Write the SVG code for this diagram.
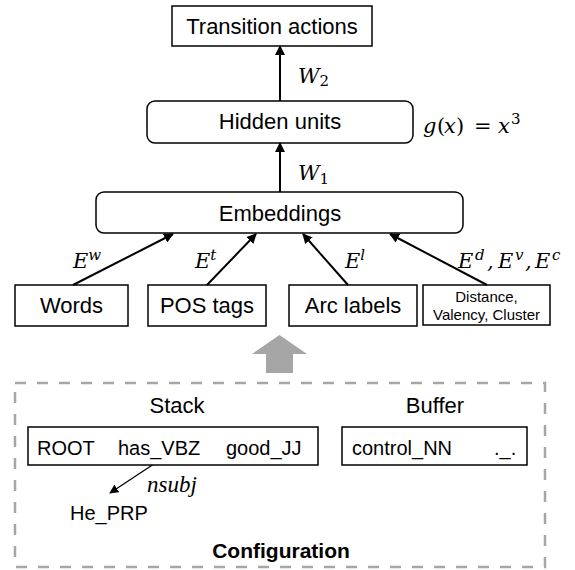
<svg xmlns="http://www.w3.org/2000/svg" width="575" height="570" viewBox="0 0 575 570">
<style>
.box{fill:#fff;stroke:#000;stroke-width:1.5}
.t{font-family:"Liberation Sans",Arial,sans-serif;font-size:22px;fill:#000}
.tc{text-anchor:middle}
.m{font-family:"DejaVu Serif","Liberation Serif",serif;font-style:italic;font-size:21px;fill:#000}
.mu{font-style:normal}
.sup{font-size:15px}
.edge{stroke:#000;stroke-width:2;fill:none;marker-end:url(#ah)}
.thin{stroke:#000;stroke-width:1.3;fill:none;marker-end:url(#ah2)}
</style>
<defs>
<marker id="ah" viewBox="0 0 10 10" refX="9" refY="5" markerWidth="5" markerHeight="5" orient="auto" markerUnits="strokeWidth">
<path d="M0,0 L10,5 L0,10 z" fill="#000"/>
</marker>
<marker id="ah2" viewBox="0 0 10 10" refX="9" refY="5" markerWidth="7" markerHeight="7" orient="auto" markerUnits="strokeWidth">
<path d="M0,0 L10,5 L0,10 z" fill="#000"/>
</marker>
</defs>

<g id="transition">
<rect class="box" x="172" y="6" width="200" height="40"/>
<text class="t tc" x="272" y="34">Transition actions</text>
</g>
<g id="hidden">
<rect class="box" x="147" y="101" width="266" height="42" rx="8"/>
<text class="t tc" x="280" y="129">Hidden units</text>
</g>
<text class="m" y="133"><tspan x="423">g</tspan><tspan class="mu" x="437">(</tspan><tspan x="444">x</tspan><tspan class="mu" x="456">)</tspan><tspan class="mu" x="474">=</tspan><tspan x="498">x</tspan><tspan class="sup mu" x="511" dy="-9">3</tspan></text>
<g id="embeddings">
<rect class="box" x="96" y="192" width="367" height="41" rx="8"/>
<text class="t tc" x="280" y="221">Embeddings</text>
</g>
<g id="words">
<rect class="box" x="15" y="285" width="113" height="41"/>
<text class="t tc" x="71.5" y="313">Words</text>
</g>
<g id="pos">
<rect class="box" x="148" y="285" width="118" height="41"/>
<text class="t tc" x="207" y="313">POS tags</text>
</g>
<g id="arc">
<rect class="box" x="289" y="285" width="128" height="41"/>
<text class="t tc" x="353" y="313">Arc labels</text>
</g>
<g id="distance">
<rect class="box" x="423" y="285" width="127" height="40"/>
<text class="t tc" x="486.5" y="302" style="font-size:15px">Distance,</text>
<text class="t tc" x="486.5" y="320" style="font-size:15px">Valency, Cluster</text>
</g>

<g id="connectors">
<line class="edge" x1="280" y1="101" x2="280" y2="46"/>
<line class="edge" x1="280" y1="192" x2="280" y2="143"/>
<line class="edge" x1="73" y1="285" x2="173" y2="234"/>
<line class="edge" x1="207" y1="285" x2="256" y2="234"/>
<line class="edge" x1="348" y1="285" x2="303" y2="234"/>
<line class="edge" x1="487" y1="285" x2="390" y2="234"/>
<line class="thin" x1="163" y1="458" x2="110" y2="493"/>
<polygon points="279.5,335 252,354 266,354 266,373 293,373 293,354 307,354" fill="#a6a6a6"/>
</g>

<text class="m" x="298" y="83">W<tspan class="sup mu" dy="3">2</tspan></text>
<text class="m" x="298" y="180">W<tspan class="sup mu" dy="4">1</tspan></text>
<text class="m" x="73" y="268">E<tspan class="sup" dy="-8">w</tspan></text>
<text class="m" x="195" y="268">E<tspan class="sup" dy="-8">t</tspan></text>
<text class="m" x="345" y="268">E<tspan class="sup" dy="-8">l</tspan></text>
<text class="m" y="268"><tspan x="458">E</tspan><tspan class="sup" x="475" dy="-8">d</tspan><tspan x="487" dy="8">,</tspan><tspan x="498">E</tspan><tspan class="sup" x="515" dy="-8">v</tspan><tspan x="525" dy="8">,</tspan><tspan x="535">E</tspan><tspan class="sup" x="552" dy="-8">c</tspan></text>

<g id="configuration">
<rect x="15" y="383" width="530" height="184" fill="none" stroke="#a6a6a6" stroke-width="2.5" stroke-dasharray="11 11"/>
<text class="t tc" x="177" y="413">Stack</text>
<text class="t tc" x="435" y="413">Buffer</text>
<text class="t tc" x="281" y="558" style="font-weight:bold;font-size:21px">Configuration</text>
</g>
<g id="stack">
<rect class="box" x="28" y="427" width="290" height="38"/>
<text class="t" x="37" y="455" style="font-size:20px">ROOT</text>
<text class="t" x="118" y="455" style="font-size:20px">has_VBZ</text>
<text class="t" x="226" y="455" style="font-size:20px">good_JJ</text>
</g>
<g id="buffer">
<rect class="box" x="342" y="427" width="185" height="38"/>
<text class="t" x="352" y="455" style="font-size:20px">control_NN</text>
<text class="t" x="494" y="455" style="font-size:20px">._.</text>
</g>
<g id="he">
<text class="t" x="70" y="520" style="font-size:20px">He_PRP</text>
</g>
<text style="font-family:'Liberation Serif',serif;font-style:italic;font-size:23px" x="147" y="492">nsubj</text>
</svg>
